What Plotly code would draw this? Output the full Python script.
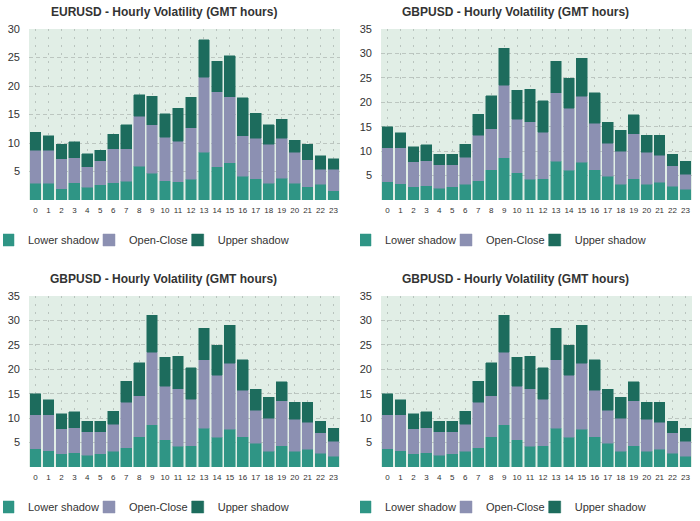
import plotly.graph_objects as go

hours = [str(h) for h in range(24)]

eur_lower = [2.9, 2.9, 2.0, 3.0, 2.2, 2.7, 3.0, 3.3, 5.9, 4.7, 3.4, 3.2, 3.6, 8.4, 5.8, 6.5, 4.2, 3.7, 2.9, 3.8, 2.9, 2.3, 2.8, 1.6]
eur_openclose = [5.8, 5.8, 5.2, 4.4, 3.6, 4.2, 6.0, 5.7, 8.8, 8.5, 7.6, 7.1, 9.1, 13.1, 13.2, 11.6, 7.1, 7.1, 6.9, 7.0, 5.5, 4.8, 2.6, 3.8]
eur_upper = [3.2, 2.6, 2.6, 2.8, 2.3, 1.8, 2.5, 4.2, 3.8, 5.0, 4.1, 5.8, 5.3, 6.6, 5.3, 7.2, 6.6, 4.4, 3.4, 3.4, 2.1, 2.7, 2.4, 1.8]

gbp_lower = [3.7, 3.3, 2.7, 2.9, 2.4, 2.7, 3.2, 3.9, 6.2, 8.6, 5.6, 4.2, 4.4, 7.9, 6.1, 7.7, 6.2, 4.9, 3.2, 4.4, 3.2, 3.6, 2.8, 2.2]
gbp_openclose = [7.0, 7.4, 5.1, 5.1, 4.8, 4.5, 5.5, 9.4, 8.4, 14.9, 10.9, 11.8, 9.5, 14.1, 12.7, 13.5, 9.5, 6.7, 6.8, 9.2, 6.6, 5.6, 4.2, 3.1]
gbp_upper = [4.3, 3.1, 3.1, 3.3, 2.2, 2.2, 2.7, 4.3, 6.7, 7.6, 6.0, 6.7, 6.4, 6.4, 6.1, 7.8, 6.3, 4.3, 4.3, 3.8, 3.5, 4.1, 2.4, 2.6]

titles = ["EURUSD - Hourly Volatility (GMT hours)",
          "GBPUSD - Hourly Volatility (GMT hours)",
          "GBPUSD - Hourly Volatility (GMT hours)",
          "GBPUSD - Hourly Volatility (GMT hours)"]
eur_ticks = [5, 10, 15, 20, 25, 30]
gbp_ticks = [5, 10, 15, 20, 25, 30, 35]
series_names = ["Lower shadow", "Open-Close", "Upper shadow"]
colors = ["#2f9585", "#8c90b2", "#1d6c5d"]

panels = [
    (eur_lower, eur_openclose, eur_upper, 30, eur_ticks),
    (gbp_lower, gbp_openclose, gbp_upper, 35, gbp_ticks),
    (gbp_lower, gbp_openclose, gbp_upper, 35, gbp_ticks),
    (gbp_lower, gbp_openclose, gbp_upper, 35, gbp_ticks),
]

W, H = 700, 521
# pixel boxes (left, right, top, bottom) for each plot area
boxes = [(29, 340, 29, 200), (381, 692, 29, 200), (29, 340, 296, 467), (381, 692, 296, 467)]
legend_left = [3, 360, 3, 360]

fig = go.Figure()
layout = dict(
    width=W, height=H, margin=dict(l=0, r=0, t=0, b=0, autoexpand=False),
    paper_bgcolor="white", plot_bgcolor="#e1eee6",
    barmode="stack", bargap=0.17,
    font=dict(family="Liberation Sans, Arial, sans-serif", color="#333333"),
    annotations=[],
)

for i, (lo, oc, up, ymax, ticks) in enumerate(panels):
    n = "" if i == 0 else str(i + 1)
    xa, ya = "x" + n, "y" + n
    lg = "legend" + n
    for name, vals, col in zip(series_names, [lo, oc, up], colors):
        fig.add_trace(go.Bar(
            x=hours, y=vals, name=name, xaxis=xa, yaxis=ya, legend=lg,
            marker=dict(color=col, line=dict(color=col, width=0.5)),
        ))
    l, r, t, b = boxes[i]
    layout["xaxis" + n] = dict(
        domain=[l / W, r / W], anchor=ya, type="category",
        showgrid=True, gridcolor="#b9c4be", griddash="2px,6px", gridwidth=1,
        tickfont=dict(size=8), ticks="", showline=False, zeroline=False,
        ticklabelstandoff=4,
    )
    layout["yaxis" + n] = dict(
        domain=[1 - b / H, 1 - t / H], anchor=xa, range=[0, ymax],
        tickvals=ticks, showgrid=True, gridcolor="#bcc6c0", griddash="4px,3px",
        gridwidth=1, tickfont=dict(size=11), ticks="", zeroline=False,
        showline=False, ticklabelstandoff=8,
    )
    layout[lg] = dict(
        orientation="h", x=legend_left[i] / W, xanchor="left",
        y=1 - (b + 40) / H, yanchor="middle", indentation=-15,
        font=dict(size=11, color="#333333"), bgcolor="rgba(0,0,0,0)",
        traceorder="normal",
    )
    layout["annotations"].append(dict(
        text="<b>" + titles[i] + "</b>", xref="paper", yref="paper",
        x=((l + r) / 2 - 21) / W, y=1 - (t - 17) / H,
        xanchor="center", yanchor="middle", showarrow=False,
        font=dict(size=12, color="#333333"),
    ))

fig.update_layout(**layout)
fig.write_html("out.html", config={"displayModeBar": False},
               post_script="document.body.style.margin='0';")
